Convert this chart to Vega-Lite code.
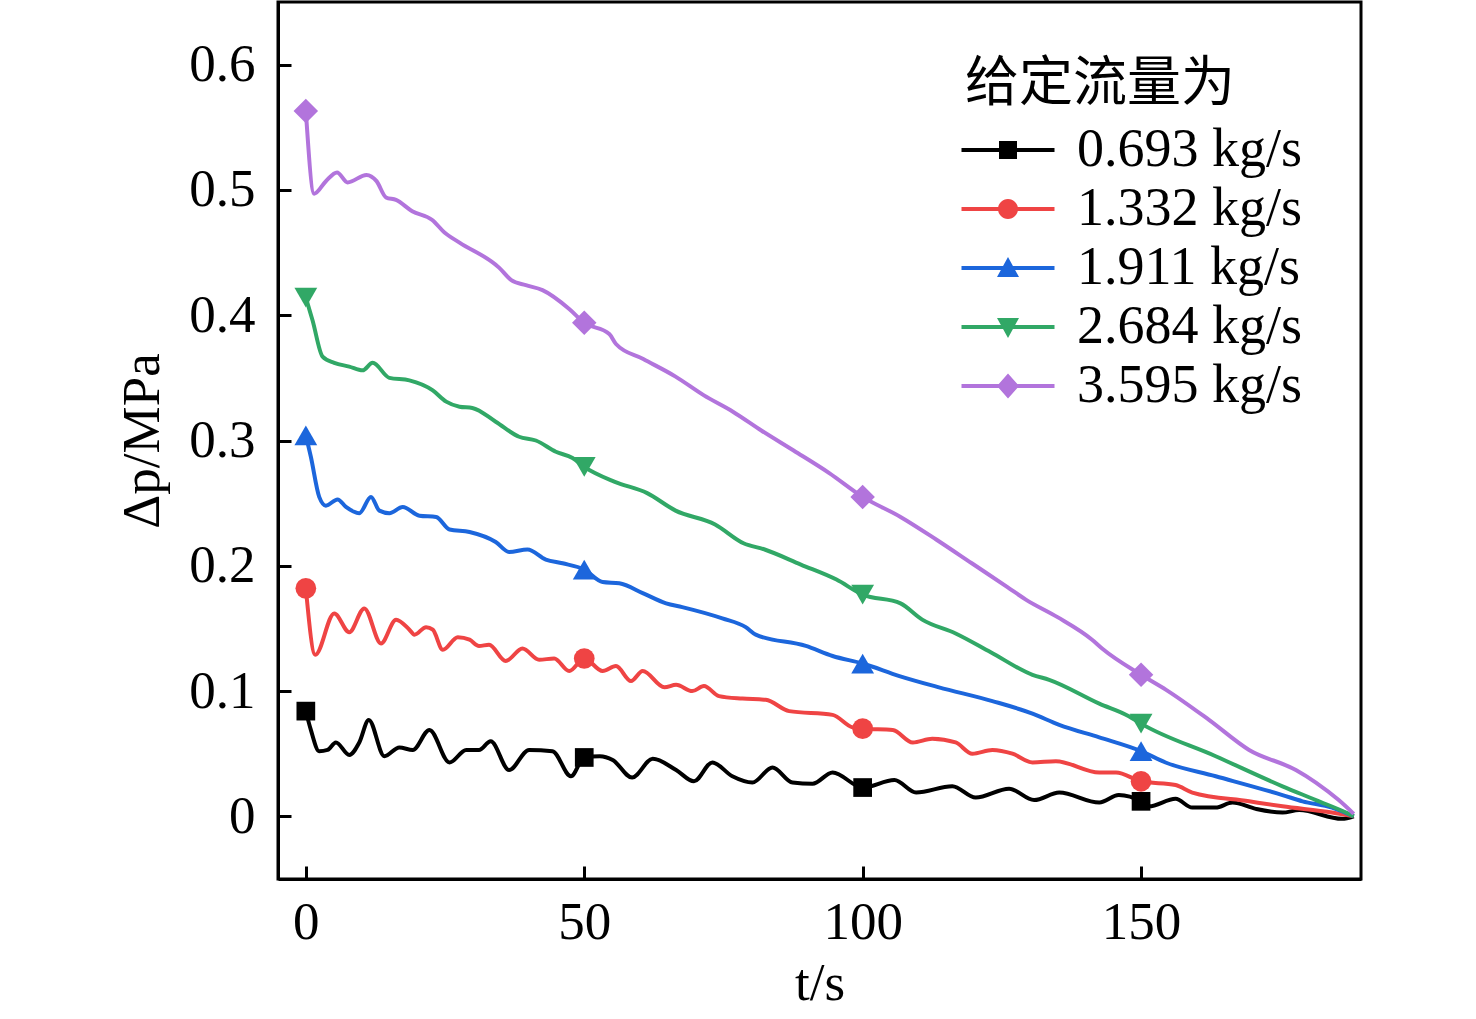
{
  "$schema": "https://vega.github.io/schema/vega-lite/v6.json",
  "width": 1083,
  "height": 877,
  "autosize": "none",
  "padding": {"left": 278, "top": 2, "right": 115, "bottom": 140},
  "background": "white",
  "config": {
    "view": {"stroke": "black", "strokeWidth": 3},
    "axis": {
      "labelFont": "Liberation Serif",
      "titleFont": "Liberation Serif",
      "labelFontSize": 53,
      "titleFontSize": 53,
      "labelColor": "black",
      "titleColor": "black",
      "titleFontWeight": "normal",
      "tickColor": "black",
      "tickWidth": 3,
      "tickSize": -13,
      "domainColor": "black",
      "domainWidth": 3,
      "grid": false
    },
    "legend": {
      "padding": 0,
      "titleFont": "Noto Sans CJK SC",
      "titleFontSize": 54,
      "titleFontWeight": "normal",
      "titleColor": "black",
      "titlePadding": 11,
      "titleLimit": 600,
      "labelFont": "Liberation Serif",
      "labelFontSize": 54,
      "labelColor": "black",
      "labelLimit": 600,
      "labelOffset": 42,
      "symbolOffset": 16,
      "symbolSize": 400,
      "symbolStrokeWidth": 0,
      "symbolOpacity": 1,
      "rowPadding": 5
    }
  },
  "data": {
    "values": [
      {"flow": "0.693 kg/s", "t": 0, "dp": 0.084},
      {"flow": "0.693 kg/s", "t": 0.9, "dp": 0.069},
      {"flow": "0.693 kg/s", "t": 2.4, "dp": 0.052},
      {"flow": "0.693 kg/s", "t": 3.9, "dp": 0.053},
      {"flow": "0.693 kg/s", "t": 5.4, "dp": 0.059},
      {"flow": "0.693 kg/s", "t": 7.8, "dp": 0.049},
      {"flow": "0.693 kg/s", "t": 9.6, "dp": 0.059},
      {"flow": "0.693 kg/s", "t": 11.3, "dp": 0.077},
      {"flow": "0.693 kg/s", "t": 14.1, "dp": 0.048},
      {"flow": "0.693 kg/s", "t": 16.8, "dp": 0.055},
      {"flow": "0.693 kg/s", "t": 19.2, "dp": 0.053},
      {"flow": "0.693 kg/s", "t": 22.2, "dp": 0.069},
      {"flow": "0.693 kg/s", "t": 25.8, "dp": 0.043},
      {"flow": "0.693 kg/s", "t": 28.8, "dp": 0.053},
      {"flow": "0.693 kg/s", "t": 31.1, "dp": 0.053},
      {"flow": "0.693 kg/s", "t": 33.2, "dp": 0.06},
      {"flow": "0.693 kg/s", "t": 36.5, "dp": 0.037},
      {"flow": "0.693 kg/s", "t": 40.1, "dp": 0.053},
      {"flow": "0.693 kg/s", "t": 44.3, "dp": 0.052},
      {"flow": "0.693 kg/s", "t": 47.6, "dp": 0.032},
      {"flow": "0.693 kg/s", "t": 50, "dp": 0.047},
      {"flow": "0.693 kg/s", "t": 52.8, "dp": 0.048},
      {"flow": "0.693 kg/s", "t": 55.1, "dp": 0.045},
      {"flow": "0.693 kg/s", "t": 58.6, "dp": 0.031},
      {"flow": "0.693 kg/s", "t": 62.3, "dp": 0.046},
      {"flow": "0.693 kg/s", "t": 66.5, "dp": 0.037},
      {"flow": "0.693 kg/s", "t": 69.7, "dp": 0.028},
      {"flow": "0.693 kg/s", "t": 73, "dp": 0.043},
      {"flow": "0.693 kg/s", "t": 76.6, "dp": 0.032},
      {"flow": "0.693 kg/s", "t": 80.2, "dp": 0.027},
      {"flow": "0.693 kg/s", "t": 83.8, "dp": 0.039},
      {"flow": "0.693 kg/s", "t": 87.4, "dp": 0.027},
      {"flow": "0.693 kg/s", "t": 91, "dp": 0.026},
      {"flow": "0.693 kg/s", "t": 94.6, "dp": 0.035},
      {"flow": "0.693 kg/s", "t": 100, "dp": 0.023},
      {"flow": "0.693 kg/s", "t": 105.7, "dp": 0.029},
      {"flow": "0.693 kg/s", "t": 109.6, "dp": 0.019},
      {"flow": "0.693 kg/s", "t": 116.1, "dp": 0.024},
      {"flow": "0.693 kg/s", "t": 120.3, "dp": 0.015},
      {"flow": "0.693 kg/s", "t": 126.3, "dp": 0.022},
      {"flow": "0.693 kg/s", "t": 130.8, "dp": 0.013},
      {"flow": "0.693 kg/s", "t": 135.3, "dp": 0.019},
      {"flow": "0.693 kg/s", "t": 142.5, "dp": 0.011},
      {"flow": "0.693 kg/s", "t": 146, "dp": 0.017},
      {"flow": "0.693 kg/s", "t": 150, "dp": 0.012},
      {"flow": "0.693 kg/s", "t": 151.4, "dp": 0.008},
      {"flow": "0.693 kg/s", "t": 156.2, "dp": 0.014},
      {"flow": "0.693 kg/s", "t": 159.2, "dp": 0.007},
      {"flow": "0.693 kg/s", "t": 163.4, "dp": 0.007},
      {"flow": "0.693 kg/s", "t": 166.4, "dp": 0.011},
      {"flow": "0.693 kg/s", "t": 170.6, "dp": 0.006},
      {"flow": "0.693 kg/s", "t": 175.4, "dp": 0.003},
      {"flow": "0.693 kg/s", "t": 178.4, "dp": 0.005},
      {"flow": "0.693 kg/s", "t": 186.1, "dp": -0.002},
      {"flow": "0.693 kg/s", "t": 188.2, "dp": 0.0},

      {"flow": "1.332 kg/s", "t": 0, "dp": 0.182},
      {"flow": "1.332 kg/s", "t": 1.7, "dp": 0.129},
      {"flow": "1.332 kg/s", "t": 5.1, "dp": 0.162},
      {"flow": "1.332 kg/s", "t": 7.8, "dp": 0.147},
      {"flow": "1.332 kg/s", "t": 10.5, "dp": 0.166},
      {"flow": "1.332 kg/s", "t": 13.5, "dp": 0.138},
      {"flow": "1.332 kg/s", "t": 16.2, "dp": 0.157},
      {"flow": "1.332 kg/s", "t": 18.6, "dp": 0.149},
      {"flow": "1.332 kg/s", "t": 19.5, "dp": 0.145},
      {"flow": "1.332 kg/s", "t": 21.6, "dp": 0.151},
      {"flow": "1.332 kg/s", "t": 22.8, "dp": 0.149},
      {"flow": "1.332 kg/s", "t": 24.6, "dp": 0.133},
      {"flow": "1.332 kg/s", "t": 27.3, "dp": 0.143},
      {"flow": "1.332 kg/s", "t": 29.4, "dp": 0.141},
      {"flow": "1.332 kg/s", "t": 31.1, "dp": 0.136},
      {"flow": "1.332 kg/s", "t": 32.9, "dp": 0.137},
      {"flow": "1.332 kg/s", "t": 35.9, "dp": 0.124},
      {"flow": "1.332 kg/s", "t": 38.9, "dp": 0.134},
      {"flow": "1.332 kg/s", "t": 41.9, "dp": 0.125},
      {"flow": "1.332 kg/s", "t": 44.6, "dp": 0.126},
      {"flow": "1.332 kg/s", "t": 47.3, "dp": 0.116},
      {"flow": "1.332 kg/s", "t": 50, "dp": 0.126},
      {"flow": "1.332 kg/s", "t": 53.3, "dp": 0.116},
      {"flow": "1.332 kg/s", "t": 55.7, "dp": 0.12},
      {"flow": "1.332 kg/s", "t": 58.4, "dp": 0.108},
      {"flow": "1.332 kg/s", "t": 60.5, "dp": 0.116},
      {"flow": "1.332 kg/s", "t": 64.4, "dp": 0.103},
      {"flow": "1.332 kg/s", "t": 66.5, "dp": 0.105},
      {"flow": "1.332 kg/s", "t": 69.4, "dp": 0.1},
      {"flow": "1.332 kg/s", "t": 71.5, "dp": 0.104},
      {"flow": "1.332 kg/s", "t": 74.2, "dp": 0.096},
      {"flow": "1.332 kg/s", "t": 78.4, "dp": 0.094},
      {"flow": "1.332 kg/s", "t": 82.6, "dp": 0.093},
      {"flow": "1.332 kg/s", "t": 86.8, "dp": 0.084},
      {"flow": "1.332 kg/s", "t": 94.6, "dp": 0.081},
      {"flow": "1.332 kg/s", "t": 98.2, "dp": 0.071},
      {"flow": "1.332 kg/s", "t": 100, "dp": 0.07},
      {"flow": "1.332 kg/s", "t": 105.4, "dp": 0.069},
      {"flow": "1.332 kg/s", "t": 109, "dp": 0.059},
      {"flow": "1.332 kg/s", "t": 112.5, "dp": 0.062},
      {"flow": "1.332 kg/s", "t": 116.7, "dp": 0.059},
      {"flow": "1.332 kg/s", "t": 119.7, "dp": 0.05},
      {"flow": "1.332 kg/s", "t": 123.3, "dp": 0.053},
      {"flow": "1.332 kg/s", "t": 126.9, "dp": 0.05},
      {"flow": "1.332 kg/s", "t": 130.5, "dp": 0.043},
      {"flow": "1.332 kg/s", "t": 134.7, "dp": 0.044},
      {"flow": "1.332 kg/s", "t": 142.5, "dp": 0.035},
      {"flow": "1.332 kg/s", "t": 145.5, "dp": 0.035},
      {"flow": "1.332 kg/s", "t": 150, "dp": 0.028},
      {"flow": "1.332 kg/s", "t": 156.2, "dp": 0.025},
      {"flow": "1.332 kg/s", "t": 159.2, "dp": 0.019},
      {"flow": "1.332 kg/s", "t": 169.4, "dp": 0.012},
      {"flow": "1.332 kg/s", "t": 175.4, "dp": 0.008},
      {"flow": "1.332 kg/s", "t": 184.3, "dp": 0.003},
      {"flow": "1.332 kg/s", "t": 188.2, "dp": 0.0},

      {"flow": "1.911 kg/s", "t": 0, "dp": 0.304},
      {"flow": "1.911 kg/s", "t": 0.9, "dp": 0.287},
      {"flow": "1.911 kg/s", "t": 2.4, "dp": 0.255},
      {"flow": "1.911 kg/s", "t": 3.6, "dp": 0.248},
      {"flow": "1.911 kg/s", "t": 5.7, "dp": 0.253},
      {"flow": "1.911 kg/s", "t": 7.2, "dp": 0.247},
      {"flow": "1.911 kg/s", "t": 9.6, "dp": 0.242},
      {"flow": "1.911 kg/s", "t": 11.7, "dp": 0.255},
      {"flow": "1.911 kg/s", "t": 13.2, "dp": 0.244},
      {"flow": "1.911 kg/s", "t": 15, "dp": 0.242},
      {"flow": "1.911 kg/s", "t": 17.4, "dp": 0.247},
      {"flow": "1.911 kg/s", "t": 20.4, "dp": 0.24},
      {"flow": "1.911 kg/s", "t": 23.4, "dp": 0.239},
      {"flow": "1.911 kg/s", "t": 25.8, "dp": 0.229},
      {"flow": "1.911 kg/s", "t": 29.4, "dp": 0.227},
      {"flow": "1.911 kg/s", "t": 34.1, "dp": 0.219},
      {"flow": "1.911 kg/s", "t": 36.5, "dp": 0.211},
      {"flow": "1.911 kg/s", "t": 39.8, "dp": 0.213},
      {"flow": "1.911 kg/s", "t": 43.1, "dp": 0.205},
      {"flow": "1.911 kg/s", "t": 46.1, "dp": 0.202},
      {"flow": "1.911 kg/s", "t": 50, "dp": 0.197},
      {"flow": "1.911 kg/s", "t": 53.3, "dp": 0.187},
      {"flow": "1.911 kg/s", "t": 56.3, "dp": 0.186},
      {"flow": "1.911 kg/s", "t": 60.6, "dp": 0.178},
      {"flow": "1.911 kg/s", "t": 64.7, "dp": 0.17},
      {"flow": "1.911 kg/s", "t": 67.6, "dp": 0.167},
      {"flow": "1.911 kg/s", "t": 74.8, "dp": 0.158},
      {"flow": "1.911 kg/s", "t": 79, "dp": 0.151},
      {"flow": "1.911 kg/s", "t": 80.8, "dp": 0.145},
      {"flow": "1.911 kg/s", "t": 89.8, "dp": 0.136},
      {"flow": "1.911 kg/s", "t": 94.6, "dp": 0.128},
      {"flow": "1.911 kg/s", "t": 100, "dp": 0.122},
      {"flow": "1.911 kg/s", "t": 106.6, "dp": 0.112},
      {"flow": "1.911 kg/s", "t": 113.7, "dp": 0.103},
      {"flow": "1.911 kg/s", "t": 123.3, "dp": 0.092},
      {"flow": "1.911 kg/s", "t": 130.5, "dp": 0.082},
      {"flow": "1.911 kg/s", "t": 135.3, "dp": 0.073},
      {"flow": "1.911 kg/s", "t": 142.5, "dp": 0.063},
      {"flow": "1.911 kg/s", "t": 150, "dp": 0.052},
      {"flow": "1.911 kg/s", "t": 154.4, "dp": 0.043},
      {"flow": "1.911 kg/s", "t": 163.4, "dp": 0.032},
      {"flow": "1.911 kg/s", "t": 175.4, "dp": 0.017},
      {"flow": "1.911 kg/s", "t": 179, "dp": 0.012},
      {"flow": "1.911 kg/s", "t": 184.3, "dp": 0.007},
      {"flow": "1.911 kg/s", "t": 188.2, "dp": 0.0},

      {"flow": "2.684 kg/s", "t": 0, "dp": 0.414},
      {"flow": "2.684 kg/s", "t": 1.2, "dp": 0.396},
      {"flow": "2.684 kg/s", "t": 3, "dp": 0.367},
      {"flow": "2.684 kg/s", "t": 5.1, "dp": 0.362},
      {"flow": "2.684 kg/s", "t": 7.8, "dp": 0.359},
      {"flow": "2.684 kg/s", "t": 10.2, "dp": 0.356},
      {"flow": "2.684 kg/s", "t": 12, "dp": 0.362},
      {"flow": "2.684 kg/s", "t": 15, "dp": 0.35},
      {"flow": "2.684 kg/s", "t": 18.6, "dp": 0.348},
      {"flow": "2.684 kg/s", "t": 22.8, "dp": 0.34},
      {"flow": "2.684 kg/s", "t": 25.2, "dp": 0.331},
      {"flow": "2.684 kg/s", "t": 27.6, "dp": 0.327},
      {"flow": "2.684 kg/s", "t": 29.9, "dp": 0.326},
      {"flow": "2.684 kg/s", "t": 34.1, "dp": 0.315},
      {"flow": "2.684 kg/s", "t": 38.3, "dp": 0.303},
      {"flow": "2.684 kg/s", "t": 41.3, "dp": 0.3},
      {"flow": "2.684 kg/s", "t": 44.9, "dp": 0.291},
      {"flow": "2.684 kg/s", "t": 47.9, "dp": 0.286},
      {"flow": "2.684 kg/s", "t": 50, "dp": 0.279},
      {"flow": "2.684 kg/s", "t": 55.5, "dp": 0.267},
      {"flow": "2.684 kg/s", "t": 61.3, "dp": 0.258},
      {"flow": "2.684 kg/s", "t": 66.4, "dp": 0.244},
      {"flow": "2.684 kg/s", "t": 73.5, "dp": 0.233},
      {"flow": "2.684 kg/s", "t": 78.6, "dp": 0.218},
      {"flow": "2.684 kg/s", "t": 82.4, "dp": 0.213},
      {"flow": "2.684 kg/s", "t": 88.9, "dp": 0.201},
      {"flow": "2.684 kg/s", "t": 95.3, "dp": 0.189},
      {"flow": "2.684 kg/s", "t": 100, "dp": 0.177},
      {"flow": "2.684 kg/s", "t": 106.8, "dp": 0.17},
      {"flow": "2.684 kg/s", "t": 110.7, "dp": 0.157},
      {"flow": "2.684 kg/s", "t": 116.7, "dp": 0.146},
      {"flow": "2.684 kg/s", "t": 123, "dp": 0.131},
      {"flow": "2.684 kg/s", "t": 130.5, "dp": 0.113},
      {"flow": "2.684 kg/s", "t": 133.5, "dp": 0.109},
      {"flow": "2.684 kg/s", "t": 142.5, "dp": 0.09},
      {"flow": "2.684 kg/s", "t": 147.8, "dp": 0.08},
      {"flow": "2.684 kg/s", "t": 150, "dp": 0.074},
      {"flow": "2.684 kg/s", "t": 163.4, "dp": 0.048},
      {"flow": "2.684 kg/s", "t": 175.4, "dp": 0.024},
      {"flow": "2.684 kg/s", "t": 181.4, "dp": 0.013},
      {"flow": "2.684 kg/s", "t": 187.3, "dp": 0.002},
      {"flow": "2.684 kg/s", "t": 188.2, "dp": 0.0},

      {"flow": "3.595 kg/s", "t": 0, "dp": 0.563},
      {"flow": "3.595 kg/s", "t": 1.5, "dp": 0.497},
      {"flow": "3.595 kg/s", "t": 3.6, "dp": 0.507},
      {"flow": "3.595 kg/s", "t": 5.6, "dp": 0.514},
      {"flow": "3.595 kg/s", "t": 7.5, "dp": 0.506},
      {"flow": "3.595 kg/s", "t": 10.9, "dp": 0.512},
      {"flow": "3.595 kg/s", "t": 12.7, "dp": 0.507},
      {"flow": "3.595 kg/s", "t": 14.4, "dp": 0.494},
      {"flow": "3.595 kg/s", "t": 16.2, "dp": 0.492},
      {"flow": "3.595 kg/s", "t": 19.1, "dp": 0.483},
      {"flow": "3.595 kg/s", "t": 22.7, "dp": 0.476},
      {"flow": "3.595 kg/s", "t": 24.9, "dp": 0.466},
      {"flow": "3.595 kg/s", "t": 27.6, "dp": 0.458},
      {"flow": "3.595 kg/s", "t": 34.7, "dp": 0.438},
      {"flow": "3.595 kg/s", "t": 36.9, "dp": 0.428},
      {"flow": "3.595 kg/s", "t": 39.5, "dp": 0.424},
      {"flow": "3.595 kg/s", "t": 42.5, "dp": 0.42},
      {"flow": "3.595 kg/s", "t": 47.3, "dp": 0.405},
      {"flow": "3.595 kg/s", "t": 50, "dp": 0.394},
      {"flow": "3.595 kg/s", "t": 54.5, "dp": 0.385},
      {"flow": "3.595 kg/s", "t": 55.7, "dp": 0.377},
      {"flow": "3.595 kg/s", "t": 60.6, "dp": 0.365},
      {"flow": "3.595 kg/s", "t": 66.4, "dp": 0.351},
      {"flow": "3.595 kg/s", "t": 71.5, "dp": 0.336},
      {"flow": "3.595 kg/s", "t": 76.7, "dp": 0.323},
      {"flow": "3.595 kg/s", "t": 81.8, "dp": 0.308},
      {"flow": "3.595 kg/s", "t": 87.6, "dp": 0.292},
      {"flow": "3.595 kg/s", "t": 94, "dp": 0.274},
      {"flow": "3.595 kg/s", "t": 100, "dp": 0.255},
      {"flow": "3.595 kg/s", "t": 106.8, "dp": 0.239},
      {"flow": "3.595 kg/s", "t": 113.2, "dp": 0.221},
      {"flow": "3.595 kg/s", "t": 119.6, "dp": 0.202},
      {"flow": "3.595 kg/s", "t": 126, "dp": 0.183},
      {"flow": "3.595 kg/s", "t": 129.3, "dp": 0.173},
      {"flow": "3.595 kg/s", "t": 135, "dp": 0.159},
      {"flow": "3.595 kg/s", "t": 141.2, "dp": 0.141},
      {"flow": "3.595 kg/s", "t": 143, "dp": 0.134},
      {"flow": "3.595 kg/s", "t": 150, "dp": 0.113},
      {"flow": "3.595 kg/s", "t": 154.5, "dp": 0.101},
      {"flow": "3.595 kg/s", "t": 162.2, "dp": 0.077},
      {"flow": "3.595 kg/s", "t": 169.4, "dp": 0.053},
      {"flow": "3.595 kg/s", "t": 177.8, "dp": 0.037},
      {"flow": "3.595 kg/s", "t": 181.4, "dp": 0.027},
      {"flow": "3.595 kg/s", "t": 185.5, "dp": 0.013},
      {"flow": "3.595 kg/s", "t": 188.2, "dp": 0.002}
    ]
  },
  "encoding": {
    "x": {
      "field": "t",
      "type": "quantitative",
      "scale": {"domain": [-5, 189.5], "nice": false, "zero": false},
      "axis": {
        "title": "t/s",
        "values": [0, 50, 100, 150],
        "labelPadding": 30,
        "titleY": 120,
        "titleBaseline": "alphabetic"
      }
    },
    "y": {
      "field": "dp",
      "type": "quantitative",
      "scale": {"domain": [-0.05, 0.65], "nice": false, "zero": false},
      "axis": {
        "title": "Δp/MPa",
        "values": [0, 0.1, 0.2, 0.3, 0.4, 0.5, 0.6],
        "format": ".1~f",
        "labelPadding": 36,
        "titleX": -120,
        "titleBaseline": "alphabetic"
      }
    },
    "color": {
      "field": "flow",
      "type": "nominal",
      "scale": {
        "domain": ["0.693 kg/s", "1.332 kg/s", "1.911 kg/s", "2.684 kg/s", "3.595 kg/s"],
        "range": ["#000000", "#ef4444", "#1c66dc", "#31a866", "#b274dc"]
      },
      "legend": {"title": "给定流量为", "orient": "none", "legendX": 687, "legendY": 56}
    }
  },
  "layer": [
    {
      "mark": {"type": "line", "strokeWidth": 4, "interpolate": "monotone"}
    },
    {
      "transform": [{"filter": "datum.flow == '0.693 kg/s' && indexof([0, 50, 100, 150], datum.t) >= 0"}],
      "mark": {"type": "point", "shape": "square", "filled": true, "opacity": 1, "size": 350}
    },
    {
      "transform": [{"filter": "datum.flow == '1.332 kg/s' && indexof([0, 50, 100, 150], datum.t) >= 0"}],
      "mark": {"type": "point", "shape": "circle", "filled": true, "opacity": 1, "size": 430}
    },
    {
      "transform": [{"filter": "datum.flow == '1.911 kg/s' && indexof([0, 50, 100, 150], datum.t) >= 0"}],
      "mark": {"type": "point", "shape": "triangle-up", "filled": true, "opacity": 1, "size": 520}
    },
    {
      "transform": [{"filter": "datum.flow == '2.684 kg/s' && indexof([0, 50, 100, 150], datum.t) >= 0"}],
      "mark": {"type": "point", "shape": "triangle-down", "filled": true, "opacity": 1, "size": 520}
    },
    {
      "transform": [{"filter": "datum.flow == '3.595 kg/s' && indexof([0, 50, 100, 150], datum.t) >= 0"}],
      "mark": {"type": "point", "shape": "diamond", "filled": true, "opacity": 1, "size": 600}
    },
    {
      "transform": [{"filter": "datum.t == 0"}],
      "mark": {"type": "point", "filled": true, "opacity": 0, "size": 400},
      "encoding": {
        "shape": {
          "field": "flow",
          "type": "nominal",
          "scale": {
            "domain": ["0.693 kg/s", "1.332 kg/s", "1.911 kg/s", "2.684 kg/s", "3.595 kg/s"],
            "range": [
              "M-4.65,-0.2H4.65V0.2H-4.65ZM-0.9,-0.9H0.9V0.9H-0.9Z",
              "M-4.65,-0.2H4.65V0.2H-4.65ZM1,0A1,1,0,1,1,-1,0A1,1,0,1,1,1,0Z",
              "M-4.65,-0.2H4.65V0.2H-4.65ZM0,-1.1L1.1,0.9H-1.1Z",
              "M-4.65,-0.2H4.65V0.2H-4.65ZM0,1.1L-1.1,-0.9H1.1Z",
              "M-4.65,-0.2H4.65V0.2H-4.65ZM0,-1.25L1.1,0L0,1.25L-1.1,0Z"
            ]
          },
          "legend": {"title": "给定流量为", "orient": "none", "legendX": 687, "legendY": 56}
        }
      }
    }
  ]
}
